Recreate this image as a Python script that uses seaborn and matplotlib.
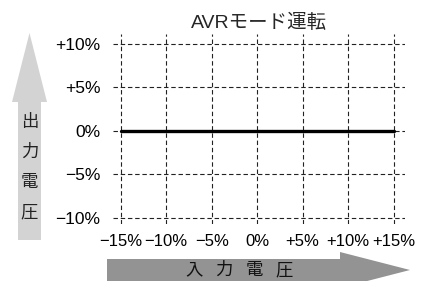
import matplotlib
matplotlib.use("Agg")
import matplotlib.pyplot as plt
import seaborn as sns
import pandas as pd
from matplotlib.patches import Polygon

# data
input_v = [-15, 15]
output_v = [0, 0]
x_ticks = [-15, -10, -5, 0, 5, 10, 15]
x_labels = ["−15%", "−10%", "−5%", "0%", "+5%", "+10%", "+15%"]
y_ticks = [-10, -5, 0, 5, 10]
y_labels = ["−10%", "−5%", "0%", "+5%", "+10%"]
title = "AVRモード運転"
x_name = ["入", "力", "電", "圧"]
y_name = ["出", "力", "電", "圧"]

sns.set_style("white")
plt.rcParams['font.family'] = ['Liberation Sans', 'Noto Sans CJK JP', 'DejaVu Sans']

W, H = 427, 281
fig = plt.figure(figsize=(W / 100, H / 100), dpi=100)

# background layer in pixel coords for the arrows
bg = fig.add_axes([0, 0, 1, 1], zorder=0)
bg.set_xlim(0, W)
bg.set_ylim(H, 0)
bg.axis("off")
bg.add_patch(Polygon([(18, 240), (41, 240), (41, 102), (47, 102), (29.5, 33),
                      (12, 102), (18, 102)], closed=True, fc="#d3d3d3", ec="none"))
bg.add_patch(Polygon([(107, 259), (340, 259), (340, 252), (410, 270),
                      (340, 288), (340, 282), (107, 282)], closed=True,
                     fc="#939393", ec="none"))
for i, ch in enumerate(y_name):
    bg.text(29.5, 122 + i * 30, ch, ha="center", va="center", fontsize=12.5,
            color="#222222", family="Noto Sans CJK JP")
for i, ch in enumerate(x_name):
    bg.text(194 + i * 30, 270, ch, ha="center", va="center", fontsize=12.5,
            color="#111111", family="Noto Sans CJK JP")

ax = fig.add_axes([113 / W, (H - 224) / H, 292 / W, 190 / H], zorder=1)
ax.patch.set_alpha(0)
df = pd.DataFrame({"input": input_v, "output": output_v})
sns.lineplot(data=df, x="input", y="output", ax=ax, color="black", linewidth=2.4)

ax.set_xlim(-15.85, 16.25)
ax.set_ylim(-10.7, 11.15)
ax.set_xticks(x_ticks, x_labels)
ax.set_yticks(y_ticks, y_labels)
ax.tick_params(length=0, colors="black")
ax.tick_params(axis="x", pad=7, labelsize=12)
ax.tick_params(axis="y", pad=9, labelsize=12.5)
ax.grid(True, color="#222222", linestyle=(0, (4, 2.5)), linewidth=0.8)
for s in ax.spines.values():
    s.set_visible(False)
ax.set_xlabel("")
ax.set_ylabel("")
ax.set_title(title, fontsize=14, pad=4)

fig.savefig("out.png", dpi=100)
